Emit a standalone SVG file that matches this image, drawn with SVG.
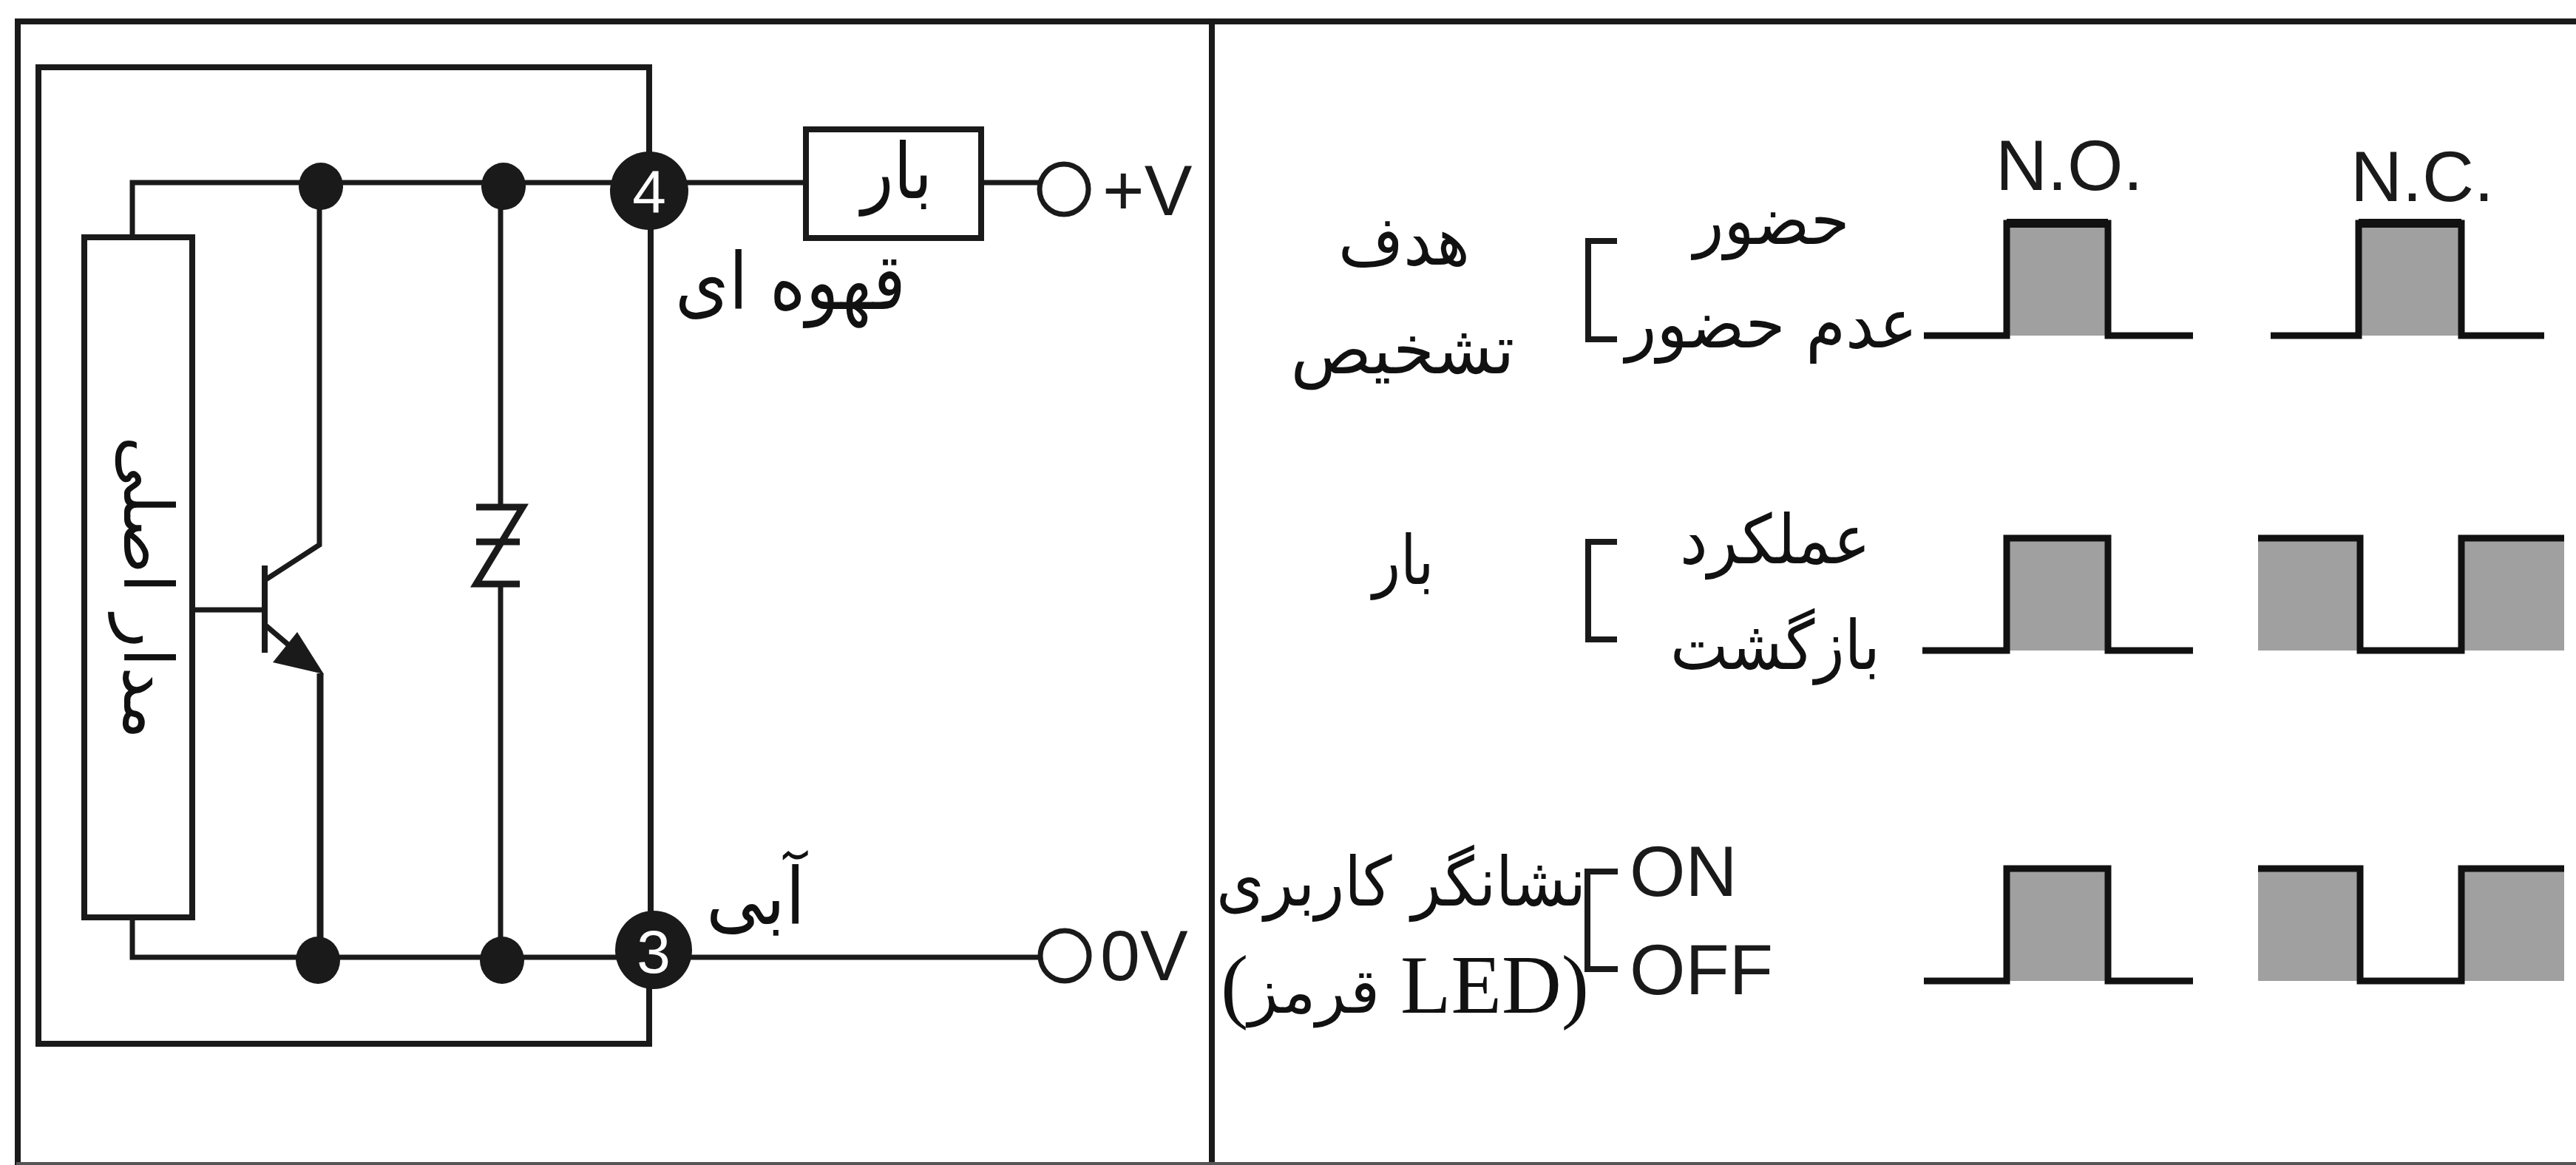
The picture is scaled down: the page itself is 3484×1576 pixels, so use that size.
<svg xmlns="http://www.w3.org/2000/svg" width="3484" height="1576" viewBox="0 0 3484 1576">
<style>
.w{fill:none;stroke:#1a1a1a;stroke-width:8;stroke-linecap:square}
.t{fill:none;stroke:#1a1a1a;stroke-width:7}
.f{fill:#a0a0a0}
.p{fill:none;stroke:#111;stroke-width:9}
.d{fill:#1a1a1a}
.fa{font-family:"DejaVu Sans",sans-serif;fill:#111;text-anchor:middle;direction:rtl;font-size:92px}
.la{font-family:"Liberation Sans",Arial,sans-serif;fill:#1a1a1a;font-size:97px}
.n{font-family:"Liberation Sans",Arial,sans-serif;fill:#fff;font-size:82px;text-anchor:middle}
</style>
<rect width="3484" height="1576" fill="#fff"/>
<g id="connectors">
<path class="w" d="M24 1576V29H3484"/>
<path class="w" d="M1639 29V1576"/>
<path class="w" d="M24 1574H3484" style="stroke:#555;stroke-width:4"/>
<path class="w" d="M878 247V91H52V1412H878V1285"/>
<path class="w" d="M880 258V1285"/>
<path class="t" d="M179 321V247H878"/>
<path class="t" d="M179 1241V1295H884"/>
<path class="t" d="M432 252V737L358 785"/>
<path class="t" d="M358 765V883" style="stroke-width:8"/>
<path class="t" d="M260 825H358"/>
<path class="t" d="M358 845L405 885"/>
<path class="t" d="M433 911V1299" style="stroke-width:9"/>
<polygon class="d" points="402,855 369,896 438,912"/>
<path class="t" d="M677 252V683M677 790V1299"/>
<path class="t" d="M644 686H707L644 790H703M644 733H703" style="stroke-width:9"/>
<path class="t" d="M878 247H1090M1327 247H1407"/>
<path class="t" d="M884 1295H1407"/>
<path class="w" d="M2183 326H2148V459H2183"/>
<path class="w" d="M2183 733H2148V865H2183"/>
<path class="w" d="M2184 1179H2147V1311H2184"/>
</g>
<g id="junctions">
<ellipse class="d" cx="434" cy="252" rx="30" ry="32"/>
<ellipse class="d" cx="681" cy="252" rx="30" ry="32"/>
<ellipse class="d" cx="430" cy="1299" rx="30" ry="32"/>
<ellipse class="d" cx="679" cy="1299" rx="30" ry="32"/>
</g>
<g id="terminal-4"><ellipse class="d" cx="878" cy="258" rx="53" ry="53"/><text class="n" x="878" y="288">4</text></g>
<g id="terminal-3"><ellipse class="d" cx="884" cy="1285" rx="52" ry="53"/><text class="n" x="884" y="1316">3</text></g>
<g id="main-circuit">
<rect x="114" y="321" width="146" height="920" fill="#fff" stroke="#1a1a1a" stroke-width="8"/>
<text class="fa" transform="translate(168 795) rotate(90)" textLength="410" lengthAdjust="spacingAndGlyphs">مدار اصلی</text>
</g>
<g id="load">
<rect x="1090" y="175" width="237" height="147" fill="#fff" stroke="#1a1a1a" stroke-width="8"/>
<text class="fa" x="1213" y="268" textLength="96" lengthAdjust="spacingAndGlyphs" style="font-size:104px">بار</text>
</g>
<g id="plus-v"><ellipse cx="1439" cy="256" rx="33" ry="34" fill="#fff" stroke="#1a1a1a" stroke-width="7"/><text class="la" x="1491" y="291">+V</text></g>
<g id="zero-v"><ellipse cx="1440" cy="1293" rx="33" ry="34" fill="#fff" stroke="#1a1a1a" stroke-width="7"/><text class="la" x="1488" y="1326">0V</text></g>
<g id="labels">
<text class="fa" x="1069" y="418" textLength="312" lengthAdjust="spacingAndGlyphs" style="font-size:106px">قهوه ای</text>
<text class="fa" x="1022" y="1250" textLength="134" lengthAdjust="spacingAndGlyphs" style="font-size:106px">آبی</text>
<text class="fa" x="1899" y="358" textLength="178" lengthAdjust="spacingAndGlyphs">هدف</text>
<text class="fa" x="1897" y="505" textLength="303" lengthAdjust="spacingAndGlyphs">تشخیص</text>
<text class="fa" x="2396" y="330" textLength="211" lengthAdjust="spacingAndGlyphs">حضور</text>
<text class="fa" x="2396" y="470" textLength="395" lengthAdjust="spacingAndGlyphs">عدم حضور</text>
<text class="fa" x="1898" y="790" textLength="83" lengthAdjust="spacingAndGlyphs">بار</text>
<text class="fa" x="2401" y="762" textLength="258" lengthAdjust="spacingAndGlyphs">عملکرد</text>
<text class="fa" x="2401" y="905" textLength="284" lengthAdjust="spacingAndGlyphs">بازگشت</text>
<text class="fa" x="1895" y="1225" textLength="500" lengthAdjust="spacingAndGlyphs">نشانگر کاربری</text>
<text class="fa" x="1900" y="1370" style="font-family:'Liberation Serif','DejaVu Sans',serif;font-size:112px">(LED <tspan style="font-size:84px;font-family:'DejaVu Sans',sans-serif">قرمز</tspan>)</text>
<text class="la" x="2204" y="1212">ON</text>
<text class="la" x="2204" y="1345">OFF</text>
<text class="la" x="2699" y="257">N.O.</text>
<text class="la" x="3179" y="272">N.C.</text>
</g>
<g id="wave-target-no"><rect class="f" x="2714" y="302" width="137" height="152"/><path class="p" d="M2602 454H2714V302H2851V454H2966"/><path d="M2714 302H2851" stroke="#111" stroke-width="12"/></g>
<g id="wave-target-nc"><rect class="f" x="3190" y="302" width="139" height="152"/><path class="p" d="M3071 454H3190V302H3329V454H3441"/><path d="M3190 302H3329" stroke="#111" stroke-width="12"/></g>
<g id="wave-load-no"><rect class="f" x="2714" y="728" width="137" height="152"/><path class="p" d="M2600 880H2714V728H2851V880H2966"/></g>
<g id="wave-load-nc"><rect class="f" x="3054" y="728" width="138" height="152"/><rect class="f" x="3329" y="728" width="139" height="152"/><path class="p" d="M3054 728H3192V880H3329V728H3468"/></g>
<g id="wave-led-no"><rect class="f" x="2714" y="1175" width="137" height="152"/><path class="p" d="M2602 1327H2714V1175H2851V1327H2966"/></g>
<g id="wave-led-nc"><rect class="f" x="3054" y="1175" width="138" height="152"/><rect class="f" x="3329" y="1175" width="139" height="152"/><path class="p" d="M3054 1175H3192V1327H3329V1175H3468"/></g>
</svg>
